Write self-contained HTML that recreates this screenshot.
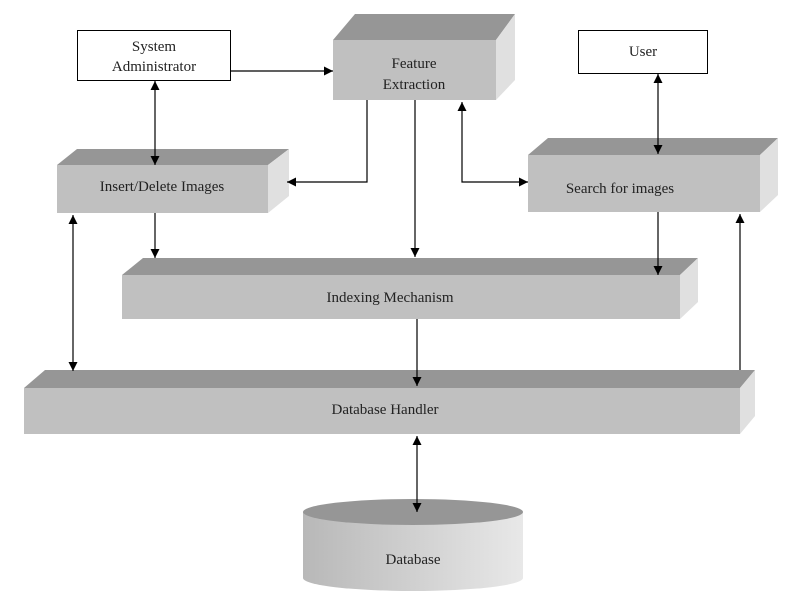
<!DOCTYPE html>
<html><head><meta charset="utf-8"><style>
html,body{margin:0;padding:0;background:#fff;}
svg{display:block}
text{font-family:"Liberation Serif",serif;font-size:15px;fill:#222;text-anchor:middle}
</style></head><body>
<svg width="793" height="608" viewBox="0 0 793 608" xmlns="http://www.w3.org/2000/svg">
<defs>
<marker id="a" viewBox="0 0 10 10" refX="10" refY="5" markerWidth="9" markerHeight="9" orient="auto-start-reverse" markerUnits="userSpaceOnUse"><path d="M0,0 L10,5 L0,10 z" fill="#000"/></marker>
<linearGradient id="cyl" x1="0" x2="1" y1="0" y2="0"><stop offset="0" stop-color="#b8b8b8"/><stop offset="0.5" stop-color="#d0d0d0"/><stop offset="1" stop-color="#e8e8e8"/></linearGradient>
</defs>
<!-- System Administrator -->
<rect x="77.5" y="30.5" width="153" height="50" fill="#fff" stroke="#000"/>
<text x="154" y="51">System</text><text x="154" y="71">Administrator</text>
<!-- User -->
<rect x="578.5" y="30.5" width="129" height="43" fill="#fff" stroke="#000"/>
<text x="643" y="56">User</text>
<!-- Feature Extraction -->
<polygon points="333,40 355,14 515,14 496,40" fill="#969696"/>
<polygon points="496,40 515,14 515,80 496,100" fill="#e0e0e0"/>
<rect x="333" y="40" width="163" height="60" fill="#c0c0c0"/>
<text x="414" y="68">Feature</text><text x="414" y="89">Extraction</text>
<!-- Insert/Delete -->
<polygon points="57,165 77,149 289,149 268,165" fill="#969696"/>
<polygon points="268,165 289,149 289,196 268,213" fill="#e0e0e0"/>
<rect x="57" y="165" width="211" height="48" fill="#c0c0c0"/>
<text x="162" y="191">Insert/Delete Images</text>
<!-- Search -->
<polygon points="528,155 548,138 778,138 760,155" fill="#969696"/>
<polygon points="760,155 778,138 778,195 760,212" fill="#e0e0e0"/>
<rect x="528" y="155" width="232" height="57" fill="#c0c0c0"/>
<text x="620" y="193">Search for images</text>
<!-- Indexing -->
<polygon points="122,275 143,258 698,258 680,275" fill="#969696"/>
<polygon points="680,275 698,258 698,302 680,319" fill="#e0e0e0"/>
<rect x="122" y="275" width="558" height="44" fill="#c0c0c0"/>
<text x="390" y="302">Indexing Mechanism</text>
<!-- Database Handler -->
<polygon points="24,388 45,370 755,370 740,388" fill="#969696"/>
<polygon points="740,388 755,370 755,416 740,434" fill="#e0e0e0"/>
<rect x="24" y="388" width="716" height="46" fill="#c0c0c0"/>
<text x="385" y="414">Database Handler</text>
<!-- Database cylinder -->
<path d="M303,512 L303,578 A110,13 0 0 0 523,578 L523,512 Z" fill="url(#cyl)"/>
<ellipse cx="413" cy="512" rx="110" ry="13" fill="#969696"/>
<text x="413" y="564">Database</text>
<!-- connectors -->
<g stroke="#000" stroke-width="1.2" fill="none">
<line x1="231" y1="71" x2="333" y2="71" marker-end="url(#a)"/>
<line x1="155" y1="81" x2="155" y2="165" marker-start="url(#a)" marker-end="url(#a)"/>
<polyline points="367,100 367,182 287,182" marker-end="url(#a)"/>
<line x1="415" y1="100" x2="415" y2="257" marker-end="url(#a)"/>
<polyline points="462,102 462,182 528,182" marker-start="url(#a)" marker-end="url(#a)"/>
<line x1="658" y1="74" x2="658" y2="154" marker-start="url(#a)" marker-end="url(#a)"/>
<line x1="155" y1="213" x2="155" y2="258" marker-end="url(#a)"/>
<line x1="658" y1="212" x2="658" y2="275" marker-end="url(#a)"/>
<line x1="73" y1="215" x2="73" y2="371" marker-start="url(#a)" marker-end="url(#a)"/>
<line x1="417" y1="319" x2="417" y2="386" marker-end="url(#a)"/>
<line x1="740" y1="370" x2="740" y2="214" marker-end="url(#a)"/>
<line x1="417" y1="436" x2="417" y2="512" marker-start="url(#a)" marker-end="url(#a)"/>
</g>
</svg>
</body></html>
